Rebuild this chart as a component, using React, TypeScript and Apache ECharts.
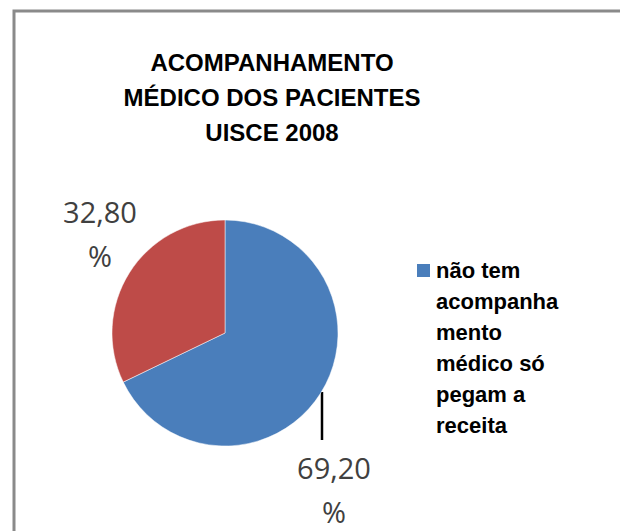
import React, { useEffect, useRef } from "react";
import * as echarts from "echarts";

const titleLines = ["ACOMPANHAMENTO", "MÉDICO DOS PACIENTES", "UISCE 2008"];
const categories = [
  "não tem\nacompanha\nmento\nmédico só\npegam a\nreceita",
  "tem acompanhamento médico",
];
const values = [69.2, 32.8];
const colors = ["#4A7EBB", "#BE4B48"];

export default function App() {
  const ref = useRef<HTMLDivElement>(null);
  useEffect(() => {
    if (!ref.current) return;
    const chart = echarts.init(ref.current, undefined, { renderer: "svg" });
    const labelPos = [
      { x: 334, y: 489 },
      { x: 100, y: 233 },
    ];
    chart.setOption({
      animation: false,
      backgroundColor: "#ffffff",
      title: {
        text: titleLines.join("\n"),
        left: 267,
        top: 40,
        padding: 5,
        textAlign: "center",
        textStyle: {
          fontFamily: "Liberation Sans",
          fontWeight: "bold",
          fontSize: 24,
          lineHeight: 35,
          color: "#000000",
        },
      },
      legend: {
        data: [categories[0]],
        orient: "vertical",
        left: 415,
        top: 100,
        padding: 0,
        itemWidth: 15,
        itemHeight: 15,
        icon: "rect",
        selectedMode: false,
        formatter: (name: string) => "\n\n\n\n\n" + name,
        textStyle: {
          fontFamily: "Liberation Sans",
          fontWeight: "bold",
          fontSize: 22,
          lineHeight: 31,
          color: "#000000",
        },
      },
      graphic: [
        {
          type: "rect",
          shape: { x: 14, y: 11, width: 700, height: 600 },
          style: { fill: "none", stroke: "#8a8a8a", lineWidth: 3 },
          silent: true,
        },
        {
          type: "line",
          shape: { x1: 322, y1: 392, x2: 322, y2: 440 },
          style: { stroke: "#000000", lineWidth: 2.5 },
          silent: true,
        },
      ],
      series: [
        {
          type: "pie",
          center: [225, 333],
          radius: 113,
          startAngle: 90,
          clockwise: true,
          color: colors,
          itemStyle: { borderColor: "#ffffff", borderWidth: 0.5 },
          label: {
            show: true,
            position: "inside",
            overflow: "none",
            formatter: (p: any) => p.value.toFixed(2).replace(".", ",") + "\n%",
            fontFamily: "Open Sans",
            fontSize: 29,
            lineHeight: 44,
            color: "#404040",
            align: "center",
          },
          labelLine: { show: false },
          labelLayout: (params: any) => ({
            x: labelPos[params.dataIndex].x,
            y: labelPos[params.dataIndex].y,
            align: "center",
            verticalAlign: "middle",
            hideOverlap: false,
          }),
          emphasis: { disabled: true },
          data: categories.map((name, i) => ({ name, value: values[i] })),
        },
      ],
    });
    return () => chart.dispose();
  }, []);
  return (
    <div
      ref={ref}
      style={{ position: "absolute", left: 0, top: 0, width: 620, height: 531 }}
    />
  );
}
